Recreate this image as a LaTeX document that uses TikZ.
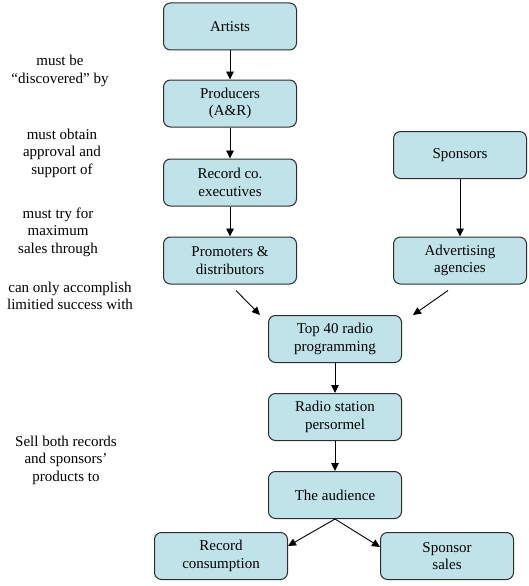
\documentclass[tikz,border=0pt]{standalone}
\usepackage{fontspec}
\setmainfont{Liberation Serif}
\usetikzlibrary{arrows.meta}
\definecolor{boxfill}{RGB}{191,227,233}
\definecolor{boxline}{RGB}{45,45,45}

\begin{document}
\begin{tikzpicture}[x=1pt,y=-1pt,
        font=\fontsize{15}{17.5}\selectfont,
        stage/.style={draw=boxline, line width=1pt, fill=boxfill, rounded corners=7pt,
            minimum width=133pt, minimum height=47pt, align=center, inner sep=2pt},
        remark/.style={align=center, inner sep=0pt},
        flow/.style={-{Triangle[length=8pt,width=7.5pt]}, line width=0.9pt}
    ]
        \useasboundingbox (0,0) rectangle (529,586);
        % main chain
        \node[stage] (artists)    at (230,26.5)  {Artists};
        \node[stage] (producers)  at (230,103.5) {Producers\\(A\&R)};
        \node[stage] (executives) at (230,182.5) {Record co.\\executives};
        \node[stage] (promoters)  at (230,260.5) {Promoters \&\\distributors};
        \node[stage] (sponsors)   at (460,155)   {Sponsors};
        \node[stage] (agencies)   at (460,260.5) {Advertising\\agencies};
        \node[stage] (top40)      at (335,339)   {Top 40 radio\\programming};
        \node[stage] (personnel)  at (335,417)   {Radio station\\persormel};
        \node[stage] (audience)   at (335,495)   {The audience};
        \node[stage] (consumption) at (221,556)  {Record\\consumption};
        \node[stage] (sales)      at (447,556)   {Sponsor\\sales};
        % side remarks
        \node[remark] (discovered) at (60,71)  {must be\\“discovered” by};
        \node[remark] (approval)   at (62,153) {must obtain\\approval and\\support of};
        \node[remark] (maximum)    at (58,232) {must try for\\maximum\\sales through};
        \node[remark] (limited)    at (70,296) {can only accomplish\\limitied success with};
        \node[remark] (sellboth)   at (66,460) {Sell both records\\and sponsors’\\products to};
        % arrows
        \draw[flow] (artists) -- (producers);
        \draw[flow] (producers) -- (executives);
        \draw[flow] (executives) -- (promoters);
        \draw[flow] (sponsors) -- (agencies);
        \draw[flow] ([xshift=6pt,yshift=-6pt]promoters.south) -- ([xshift=-8pt]top40.north west);
        \draw[flow] ([xshift=-12pt,yshift=-6pt]agencies.south) -- ([xshift=11pt]top40.north east);
        \draw[flow] (top40) -- (personnel);
        \draw[flow] (personnel) -- (audience);
        \draw[flow] (audience.south) -- ([yshift=10pt]consumption.east);
        \draw[flow] (audience.south) -- ([yshift=9pt]sales.west);
    \end{tikzpicture}
\end{document}
